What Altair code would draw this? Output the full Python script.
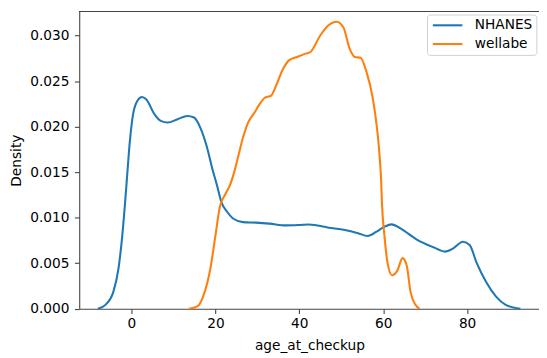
import altair as alt
import pandas as pd

# ---- data ----
nhanes_x = [-8.0, -6.2, -4.3, -3.1, -2.35, -1.6, -1.0, -0.4, 0.4, 1.5, 2.5, 3.5, 5.5, 7.0, 8.6,
            11.0, 13.3, 14.9, 16.4, 18.0, 19.2, 20.3, 21.5, 22.7, 24.3, 26.6, 29.7, 32.9, 36.8,
            40.0, 42.3, 47.0, 50.9, 54.0, 56.3, 58.3, 60.3, 62.0, 64.2, 68.1, 72.0, 74.7, 76.7,
            79.0, 80.6, 82.2, 84.5, 86.9, 89.2, 92.7]
nhanes_y = [0.0, 0.00043, 0.00188, 0.0044, 0.0073, 0.0112, 0.0148, 0.0183, 0.0214, 0.0229,
            0.02326, 0.0230, 0.02136, 0.02063, 0.02045, 0.02082, 0.02117, 0.0210, 0.0199,
            0.01774, 0.0155, 0.0137, 0.01162, 0.01071, 0.00989, 0.00952, 0.00946, 0.00935,
            0.00916, 0.0092, 0.00925, 0.00891, 0.00866, 0.0083, 0.0080, 0.00844, 0.00902,
            0.00927, 0.0088, 0.00757, 0.00675, 0.00628, 0.00664, 0.00736, 0.0070, 0.00513,
            0.00296, 0.00134, 0.00043, 0.0]

wellabe_x = [13.7, 15.7, 17.2, 18.8, 20.0, 21.1, 22.3, 23.5, 24.6, 25.4, 26.6, 27.8, 29.3, 30.5,
             31.7, 33.3, 34.4, 36.0, 37.6, 39.5, 41.5, 42.65, 45.0, 46.9, 48.9, 50.5, 52.0, 53.2,
             54.6, 56.0, 57.5, 58.5, 59.1, 59.5, 59.7, 60.3, 61.0, 62.1, 63.4, 64.6, 65.6, 66.5,
             67.7, 68.7]
wellabe_y = [0.0, 0.00026, 0.00151, 0.0044, 0.0080, 0.01125, 0.01252, 0.0136, 0.0152, 0.01666,
             0.01883, 0.02045, 0.02153, 0.02244, 0.02315, 0.02341, 0.02442, 0.02622, 0.02731,
             0.02766, 0.02802, 0.0282, 0.03001, 0.0311, 0.03153, 0.03091, 0.02856, 0.02766,
             0.02756, 0.02604, 0.02315, 0.01991, 0.01703, 0.01414, 0.0116, 0.0080, 0.00513,
             0.00368, 0.00422, 0.00556, 0.00476, 0.00188, 0.00043, 0.0]

series_names = ["NHANES", "wellabe"]
series_colors = ["#1f77b4", "#ff7f0e"]
x_ticks = [0, 20, 40, 60, 80]
y_ticks = [0.000, 0.005, 0.010, 0.015, 0.020, 0.025, 0.030]

rows = []
for i, (x, y) in enumerate(zip(nhanes_x, nhanes_y)):
    rows.append({"age_at_checkup": x, "Density": y, "source": "NHANES", "order": i})
for i, (x, y) in enumerate(zip(wellabe_x, wellabe_y)):
    rows.append({"age_at_checkup": x, "Density": y, "source": "wellabe", "order": i})
df = pd.DataFrame(rows)

W = 466.7
H = 301.7
FONT = "DejaVu Sans"
FS = 13.9

lines = alt.Chart(df).mark_line(strokeWidth=2.1, interpolate="monotone").encode(
    x=alt.X("age_at_checkup:Q",
            scale=alt.Scale(domain=[-12.45, 97.13], nice=False, zero=False),
            axis=alt.Axis(values=x_ticks, grid=False, title="age_at_checkup",
                          titleX=233.7, titleY=41.3, titleAlign="center",
                          titleBaseline="alphabetic", labelPadding=3.5)),
    y=alt.Y("Density:Q",
            scale=alt.Scale(domain=[0, 0.03264], nice=False),
            axis=alt.Axis(values=y_ticks, format=".3f", grid=False, title="Density",
                          titleX=-63.6, titleY=H / 2, titleAngle=270, titleAlign="center",
                          titleBaseline="middle", labelPadding=5.5)),
    color=alt.Color("source:N", title=None,
                    scale=alt.Scale(domain=series_names, range=series_colors),
                    legend=alt.Legend(orient="none", legendX=353, legendY=3,
                                      symbolType="M-1,0H5", symbolSize=100,
                                      symbolStrokeWidth=2.1, labelFontSize=FS,
                                      labelFont=FONT, labelColor="#000000",
                                      labelOffset=30.6, padding=4, rowPadding=4,
                                      strokeColor="#d0d0d0", fillColor="white",
                                      cornerRadius=3)),
    order="order:Q",
)

top_border = alt.Chart(df).mark_rule(color="#444444", strokeWidth=1.1).encode(
    x=alt.value(0), x2=alt.value(W), y=alt.value(0)
)

chart = alt.layer(top_border, lines).properties(
    width=W, height=H,
    autosize=alt.AutoSizeParams(type="none"),
    padding={"left": 72.3, "top": 1, "right": 0, "bottom": 46},
).configure_view(stroke=None).configure_axis(
    labelFont=FONT, labelFontSize=FS, labelColor="#000000",
    titleFont=FONT, titleFontSize=FS, titleFontWeight="normal", titleColor="#000000",
    domainColor="#444444", domainWidth=1.1, tickColor="#444444", tickWidth=1.1,
    tickSize=4.9,
)

chart.save("out.html", embed_options={"renderer": "svg", "actions": False})
